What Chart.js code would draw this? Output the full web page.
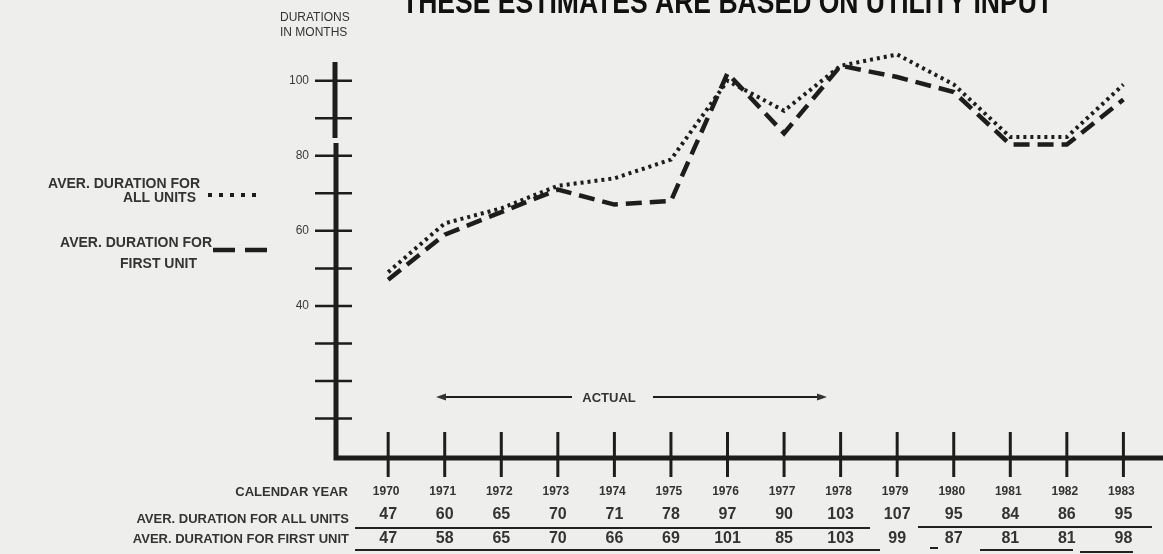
<!DOCTYPE html>
<html>
<head>
<meta charset="utf-8">
<script src="https://cdn.jsdelivr.net/npm/chart.js@4"></script>
<style>
  body { margin: 0; background: #eeeeec; }
  #wrap { width: 1163px; height: 554px; }
</style>
</head>
<body>
<div id="wrap"><canvas id="myChart" width="1163" height="554"></canvas></div>
<script>
// values
const years = [1970, 1971, 1972, 1973, 1974, 1975, 1976, 1977, 1978, 1979, 1980, 1981, 1982, 1983];
// plotted curves (as drawn)
const allUnitsLine = [49, 62, 66, 72, 74, 79, 100, 92, 104, 107, 99, 85, 85, 99];
const firstUnitLine = [47, 59, 65, 71, 67, 68, 102, 86, 104, 101, 97, 83, 83, 95];
// table printed under the axis
const allUnitsTable = ['47', '60', '65', '70', '71', '78', '97', '90', '103', '107', '95', '84', '86', '95'];
const firstUnitTable = ['47', '58', '65', '70', '66', '69', '101', '85', '103', '99', '87', '81', '81', '98'];
const yTickValues = [10, 20, 30, 40, 50, 60, 70, 80, 90, 100];
const yTickLabels = [40, 60, 80, 100];

const ink = '#1d1d1d';
const FONT = '"Liberation Sans", Arial, sans-serif';

function txt(ctx, s, x, y, size, align, maxW, bold) {
  ctx.font = (bold ? 'bold ' : '') + size + 'px ' + FONT;
  ctx.textAlign = align;
  ctx.textBaseline = 'middle';
  if (maxW) ctx.fillText(s, x, y, maxW);
  else ctx.fillText(s, x, y);
}

const paperPlugin = {
  id: 'paper',
  beforeDraw(chart) {
    const ctx = chart.ctx;
    ctx.save();
    ctx.fillStyle = '#eeeeec';
    ctx.fillRect(0, 0, chart.width, chart.height);
    ctx.restore();
  },
  afterDraw(chart) {
    const ctx = chart.ctx;
    const xs = chart.scales.x, ys = chart.scales.y;
    const area = chart.chartArea;
    const x0 = area.left, yb = ys.getPixelForValue(0);
    ctx.save();
    ctx.strokeStyle = ink;
    ctx.fillStyle = ink;
    ctx.setLineDash([]);

    // axes
    ctx.lineWidth = 5;
    ctx.beginPath();
    ctx.moveTo(x0, area.top);
    ctx.lineTo(x0, 138);
    ctx.moveTo(x0 + 1, 143);
    ctx.lineTo(x0 + 1, yb + 2);
    ctx.lineTo(chart.width, yb + 2);
    ctx.stroke();

    // y ticks (crossing)
    ctx.lineWidth = 2.5;
    yTickValues.forEach(v => {
      const y = ys.getPixelForValue(v);
      ctx.beginPath();
      ctx.moveTo(x0 - 20, y);
      ctx.lineTo(x0 + 17, y);
      ctx.stroke();
    });
    ctx.fillStyle = '#3a3a3a';
    yTickLabels.forEach(v => {
      txt(ctx, String(v), x0 - 26, ys.getPixelForValue(v), 12, 'right');
    });

    // x ticks (crossing)
    ctx.strokeStyle = ink;
    ctx.lineWidth = 3;
    years.forEach(yr => {
      const x = xs.getPixelForValue(yr);
      ctx.beginPath();
      ctx.moveTo(x, yb - 24);
      ctx.lineTo(x, yb + 21);
      ctx.stroke();
    });

    // title (cut at top of the scan)
    ctx.fillStyle = '#111';
    ctx.font = 'bold 34px ' + FONT;
    ctx.textAlign = 'left';
    ctx.textBaseline = 'alphabetic';
    ctx.fillText('THESE ESTIMATES ARE BASED ON UTILITY INPUT', 402, 13, 651);

    ctx.fillStyle = '#333';
    txt(ctx, 'DURATIONS', 280, 18, 12, 'left', 103);
    txt(ctx, 'IN MONTHS', 280, 33, 12, 'left', 98);

    // legend
    txt(ctx, 'AVER. DURATION FOR', 200, 184, 14, 'right', 188, true);
    txt(ctx, 'ALL UNITS', 196, 198, 14, 'right', 86, true);
    txt(ctx, 'AVER. DURATION FOR', 212, 243, 14, 'right', 197, true);
    txt(ctx, 'FIRST UNIT', 197, 264, 14, 'right', 87, true);
    ctx.lineWidth = 4;
    ctx.setLineDash([4, 7]);
    ctx.beginPath();
    ctx.moveTo(208, 195);
    ctx.lineTo(262, 195);
    ctx.stroke();
    ctx.lineWidth = 4.5;
    ctx.setLineDash([22, 10]);
    ctx.beginPath();
    ctx.moveTo(213, 250);
    ctx.lineTo(267, 250);
    ctx.stroke();
    ctx.setLineDash([]);

    // ACTUAL arrow
    const ay = 397;
    ctx.lineWidth = 2;
    ctx.beginPath();
    ctx.moveTo(440, ay);
    ctx.lineTo(572, ay);
    ctx.moveTo(653, ay);
    ctx.lineTo(822, ay);
    ctx.stroke();
    ctx.beginPath();
    ctx.moveTo(436, ay);
    ctx.lineTo(446, ay - 3.5);
    ctx.lineTo(446, ay + 3.5);
    ctx.closePath();
    ctx.moveTo(827, ay);
    ctx.lineTo(817, ay - 3.5);
    ctx.lineTo(817, ay + 3.5);
    ctx.closePath();
    ctx.fill();
    txt(ctx, 'ACTUAL', 609, 398, 13, 'center', 65, true);

    // table under the axis
    ctx.fillStyle = '#333';
    txt(ctx, 'CALENDAR YEAR', 348, 492, 13, 'right', 152, true);
    txt(ctx, 'AVER. DURATION FOR ALL UNITS', 349, 519, 13, 'right', 284, true);
    txt(ctx, 'AVER. DURATION FOR FIRST UNIT', 349, 539, 13, 'right', 284, true);
    years.forEach((yr, i) => {
      const x = xs.getPixelForValue(yr);
      txt(ctx, String(yr), x - 2, 492, 12, 'center', 30, true);
      txt(ctx, allUnitsTable[i], x, 515, 16, 'center', null, true);
      txt(ctx, firstUnitTable[i], x, 539, 16, 'center', null, true);
    });
    ctx.strokeStyle = '#222';
    ctx.lineWidth = 2;
    ctx.beginPath();
    ctx.moveTo(355, 528); ctx.lineTo(870, 528);
    ctx.moveTo(918, 527); ctx.lineTo(1152, 527);
    ctx.moveTo(355, 550); ctx.lineTo(880, 550);
    ctx.moveTo(930, 548); ctx.lineTo(938, 548);
    ctx.moveTo(980, 550); ctx.lineTo(1073, 550);
    ctx.moveTo(1080, 552); ctx.lineTo(1133, 552);
    ctx.stroke();

    ctx.restore();
  }
};

new Chart(document.getElementById('myChart'), {
  type: 'line',
  data: {
    datasets: [
      {
        label: 'AVER. DURATION FOR ALL UNITS',
        data: years.map((yr, i) => ({ x: yr, y: allUnitsLine[i] })),
        borderColor: ink,
        borderWidth: 4,
        borderDash: [3, 4],
        pointRadius: 0,
        tension: 0,
        clip: false
      },
      {
        label: 'AVER. DURATION FOR FIRST UNIT',
        data: years.map((yr, i) => ({ x: yr, y: firstUnitLine[i] })),
        borderColor: ink,
        borderWidth: 4.5,
        borderDash: [16, 8],
        pointRadius: 0,
        tension: 0,
        clip: false
      }
    ]
  },
  options: {
    responsive: false,
    animation: false,
    layout: { padding: { left: 335, right: 0, top: 62, bottom: 98 } },
    plugins: {
      legend: { display: false },
      tooltip: { enabled: false }
    },
    scales: {
      x: { type: 'linear', min: 1969.06, max: 1983.7, display: false },
      y: { min: 0, max: 105, display: false }
    }
  },
  plugins: [paperPlugin]
});
</script>
</body>
</html>
